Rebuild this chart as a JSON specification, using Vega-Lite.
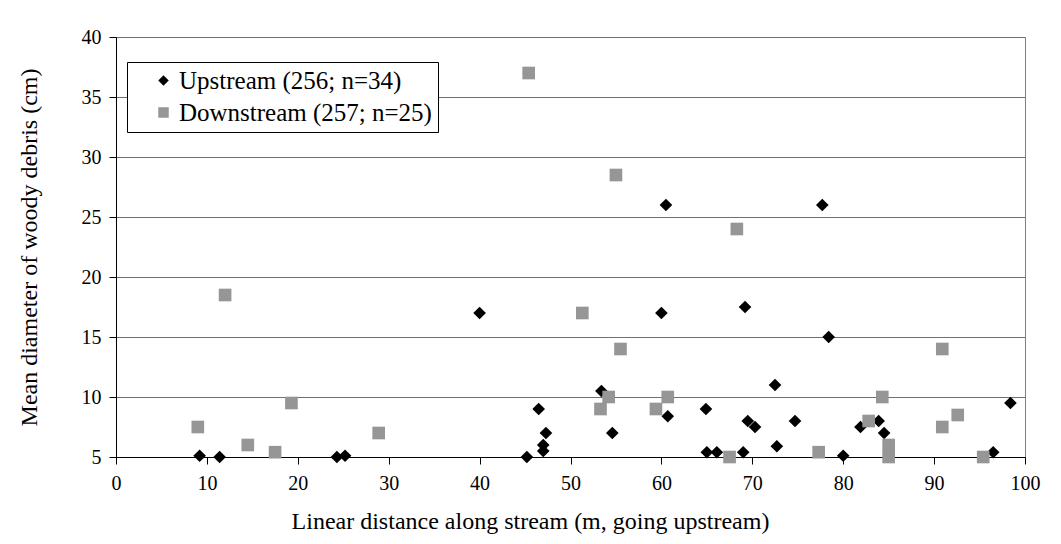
{
  "$schema": "https://vega.github.io/schema/vega-lite/v6.json",
  "width": 909,
  "height": 420,
  "autosize": {"type": "none"},
  "padding": {"left": 116, "top": 37, "right": 36, "bottom": 87},
  "background": "white",
  "config": {
    "view": {"stroke": "#808080", "strokeWidth": 1},
    "font": "Liberation Serif"
  },
  "data": {
    "values": [
      {"series": "Upstream (256; n=34)", "distance": 9.2, "diameter": 5.1},
      {"series": "Upstream (256; n=34)", "distance": 11.4, "diameter": 5.0},
      {"series": "Upstream (256; n=34)", "distance": 24.3, "diameter": 5.0},
      {"series": "Upstream (256; n=34)", "distance": 25.2, "diameter": 5.1},
      {"series": "Upstream (256; n=34)", "distance": 40.0, "diameter": 17.0},
      {"series": "Upstream (256; n=34)", "distance": 45.2, "diameter": 5.0},
      {"series": "Upstream (256; n=34)", "distance": 46.5, "diameter": 9.0},
      {"series": "Upstream (256; n=34)", "distance": 47.3, "diameter": 7.0},
      {"series": "Upstream (256; n=34)", "distance": 47.0, "diameter": 6.0},
      {"series": "Upstream (256; n=34)", "distance": 47.0, "diameter": 5.5},
      {"series": "Upstream (256; n=34)", "distance": 53.4, "diameter": 10.5},
      {"series": "Upstream (256; n=34)", "distance": 54.6, "diameter": 7.0},
      {"series": "Upstream (256; n=34)", "distance": 60.0, "diameter": 17.0},
      {"series": "Upstream (256; n=34)", "distance": 60.5, "diameter": 26.0},
      {"series": "Upstream (256; n=34)", "distance": 60.7, "diameter": 8.4},
      {"series": "Upstream (256; n=34)", "distance": 64.9, "diameter": 9.0},
      {"series": "Upstream (256; n=34)", "distance": 65.0, "diameter": 5.4},
      {"series": "Upstream (256; n=34)", "distance": 66.1, "diameter": 5.4},
      {"series": "Upstream (256; n=34)", "distance": 69.0, "diameter": 5.4},
      {"series": "Upstream (256; n=34)", "distance": 69.2, "diameter": 17.5},
      {"series": "Upstream (256; n=34)", "distance": 69.5, "diameter": 8.0},
      {"series": "Upstream (256; n=34)", "distance": 70.3, "diameter": 7.5},
      {"series": "Upstream (256; n=34)", "distance": 72.5, "diameter": 11.0},
      {"series": "Upstream (256; n=34)", "distance": 72.7, "diameter": 5.9},
      {"series": "Upstream (256; n=34)", "distance": 74.7, "diameter": 8.0},
      {"series": "Upstream (256; n=34)", "distance": 77.7, "diameter": 26.0},
      {"series": "Upstream (256; n=34)", "distance": 78.4, "diameter": 15.0},
      {"series": "Upstream (256; n=34)", "distance": 80.0, "diameter": 5.1},
      {"series": "Upstream (256; n=34)", "distance": 81.9, "diameter": 7.5},
      {"series": "Upstream (256; n=34)", "distance": 83.9, "diameter": 8.0},
      {"series": "Upstream (256; n=34)", "distance": 84.5, "diameter": 7.0},
      {"series": "Upstream (256; n=34)", "distance": 96.5, "diameter": 5.4},
      {"series": "Upstream (256; n=34)", "distance": 98.4, "diameter": 9.5},
      {"series": "Downstream (257; n=25)", "distance": 9.0, "diameter": 7.5},
      {"series": "Downstream (257; n=25)", "distance": 12.0, "diameter": 18.5},
      {"series": "Downstream (257; n=25)", "distance": 14.5, "diameter": 6.0},
      {"series": "Downstream (257; n=25)", "distance": 17.5, "diameter": 5.4},
      {"series": "Downstream (257; n=25)", "distance": 19.3, "diameter": 9.5},
      {"series": "Downstream (257; n=25)", "distance": 28.9, "diameter": 7.0},
      {"series": "Downstream (257; n=25)", "distance": 45.4, "diameter": 37.0},
      {"series": "Downstream (257; n=25)", "distance": 51.3, "diameter": 17.0},
      {"series": "Downstream (257; n=25)", "distance": 53.3, "diameter": 9.0},
      {"series": "Downstream (257; n=25)", "distance": 54.2, "diameter": 10.0},
      {"series": "Downstream (257; n=25)", "distance": 55.0, "diameter": 28.5},
      {"series": "Downstream (257; n=25)", "distance": 55.5, "diameter": 14.0},
      {"series": "Downstream (257; n=25)", "distance": 59.4, "diameter": 9.0},
      {"series": "Downstream (257; n=25)", "distance": 60.7, "diameter": 10.0},
      {"series": "Downstream (257; n=25)", "distance": 67.5, "diameter": 5.0},
      {"series": "Downstream (257; n=25)", "distance": 68.3, "diameter": 24.0},
      {"series": "Downstream (257; n=25)", "distance": 77.3, "diameter": 5.4},
      {"series": "Downstream (257; n=25)", "distance": 82.8, "diameter": 8.0},
      {"series": "Downstream (257; n=25)", "distance": 84.3, "diameter": 10.0},
      {"series": "Downstream (257; n=25)", "distance": 85.0, "diameter": 6.0},
      {"series": "Downstream (257; n=25)", "distance": 85.0, "diameter": 5.0},
      {"series": "Downstream (257; n=25)", "distance": 90.9, "diameter": 14.0},
      {"series": "Downstream (257; n=25)", "distance": 90.9, "diameter": 7.5},
      {"series": "Downstream (257; n=25)", "distance": 92.6, "diameter": 8.5},
      {"series": "Downstream (257; n=25)", "distance": 95.4, "diameter": 5.0}
    ]
  },
  "mark": {"type": "point", "filled": true, "opacity": 1, "size": 160, "strokeWidth": 0},
  "encoding": {
    "x": {
      "field": "distance",
      "type": "quantitative",
      "scale": {"domain": [0, 100], "nice": false, "zero": false},
      "axis": {
        "title": "Linear distance along stream (m, going upstream)",
        "values": [0, 10, 20, 30, 40, 50, 60, 70, 80, 90, 100],
        "grid": false,
        "domainColor": "black",
        "tickColor": "black",
        "tickSize": 7,
        "labelColor": "black",
        "labelFont": "Liberation Serif",
        "labelFontSize": 20,
        "labelPadding": 9,
        "labelFlush": false,
        "titleColor": "black",
        "titleFont": "Liberation Serif",
        "titleFontSize": 24,
        "titleFontWeight": "normal",
        "titlePadding": 16,
        "titleX": 414,
        "titleAlign": "center"
      }
    },
    "y": {
      "field": "diameter",
      "type": "quantitative",
      "scale": {"domain": [5, 40], "nice": false, "zero": false},
      "axis": {
        "title": "Mean diameter of woody debris (cm)",
        "values": [5, 10, 15, 20, 25, 30, 35, 40],
        "grid": true,
        "gridColor": "#707070",
        "gridWidth": 1,
        "domainColor": "black",
        "tickColor": "black",
        "tickSize": 7,
        "labelColor": "black",
        "labelFont": "Liberation Serif",
        "labelFontSize": 20,
        "labelPadding": 8,
        "labelFlush": false,
        "titleColor": "black",
        "titleFont": "Liberation Serif",
        "titleFontSize": 24,
        "titleFontWeight": "normal",
        "titlePadding": 40
      }
    },
    "shape": {
      "field": "series",
      "type": "nominal",
      "scale": {"domain": ["Upstream (256; n=34)", "Downstream (257; n=25)"], "range": ["diamond", "square"]},
      "legend": {
        "orient": "none",
        "legendX": 11,
        "legendY": 25,
        "title": null,
        "strokeColor": "black",
        "fillColor": "white",
        "padding": 6,
        "rowPadding": 6,
        "symbolOffset": 18,
        "symbolSize": 110,
        "symbolStrokeWidth": 0,
        "labelOffset": 3,
        "labelLimit": 500,
        "labelFont": "Liberation Serif",
        "labelFontSize": 25,
        "labelColor": "black"
      }
    },
    "color": {
      "field": "series",
      "type": "nominal",
      "scale": {"domain": ["Upstream (256; n=34)", "Downstream (257; n=25)"], "range": ["#000000", "#969696"]}
    }
  }
}
